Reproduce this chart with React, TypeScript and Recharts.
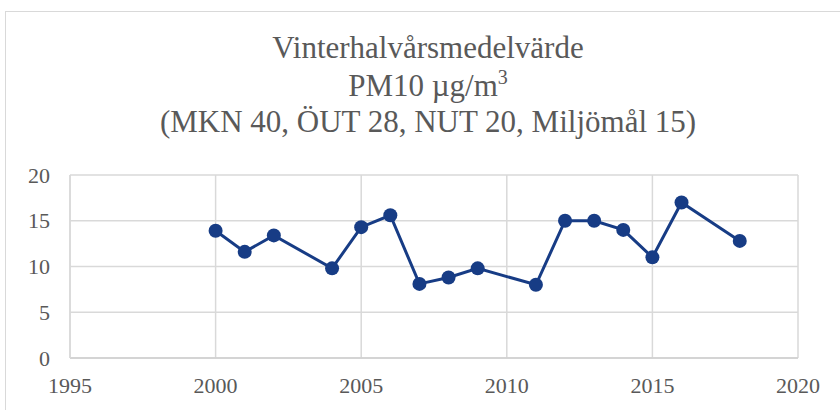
import React from "react";
import { LineChart, Line, XAxis, YAxis, CartesianGrid } from "recharts";

const years = [2000, 2001, 2002, 2004, 2005, 2006, 2007, 2008, 2009, 2011, 2012, 2013, 2014, 2015, 2016, 2018];
const pm10 = [13.9, 11.6, 13.4, 9.8, 14.3, 15.6, 8.1, 8.8, 9.8, 8.0, 15.0, 15.0, 14.0, 11.0, 17.0, 12.8];
const xTicks = [1995, 2000, 2005, 2010, 2015, 2020];
const yTicks = [0, 5, 10, 15, 20];
const titleLines = ["Vinterhalvårsmedelvärde", "PM10 µg/m", "(MKN 40, ÖUT 28, NUT 20, Miljömål 15)"];
const superscript = "3";

const data = years.map((y, i) => ({ year: y, value: pm10[i] }));

const FONT = '"Liberation Serif", "Times New Roman", serif';
const TEXT = "#595959";
const GRID = "#d9d9d9";
const LINE = "#173c85";

const XTick = (props: any) => {
  const { x, y, payload } = props;
  return (
    <text x={x} y={y + 35} textAnchor="middle" fontFamily={FONT} fontSize={22} fill={TEXT}>
      {payload.value}
    </text>
  );
};

const YTick = (props: any) => {
  const { x, y, payload } = props;
  return (
    <text x={x - 20} y={y + 7.5} textAnchor="end" fontFamily={FONT} fontSize={22} fill={TEXT}>
      {payload.value}
    </text>
  );
};

export default function App() {
  return (
    <div style={{ position: "absolute", left: 0, top: 0, width: 840, height: 410, overflow: "hidden", background: "#fff" }}>
      <div
        style={{
          position: "absolute",
          left: 5,
          top: 11,
          width: 860,
          height: 420,
          border: "1px solid #d9d9d9",
          boxSizing: "border-box",
        }}
      />
      <svg width={840} height={160} style={{ position: "absolute", left: 0, top: 0 }}>
        <text x={428} y={58} textAnchor="middle" fontFamily={FONT} fontSize={31} fill={TEXT}>
          {titleLines[0]}
        </text>
        <text x={428} y={96} textAnchor="middle" fontFamily={FONT} fontSize={31} fill={TEXT}>
          {titleLines[1]}
          <tspan fontSize={20} dy={-12}>{superscript}</tspan>
        </text>
        <text x={428} y={132} textAnchor="middle" fontFamily={FONT} fontSize={31} fill={TEXT}>
          {titleLines[2]}
        </text>
      </svg>
      <div style={{ position: "absolute", left: 0, top: 0 }}>
        <LineChart width={840} height={410} data={data} margin={{ top: 175, right: 42, bottom: 0, left: 0 }}>
          <CartesianGrid stroke={GRID} strokeWidth={1.5} />
          <XAxis
            dataKey="year"
            type="number"
            domain={[1995, 2020]}
            ticks={xTicks}
            interval={0}
            tickLine={false}
            tickSize={0}
            tickMargin={0}
            height={52}
            axisLine={{ stroke: "#cfcfcf", strokeWidth: 1.5 }}
            tick={<XTick />}
          />
          <YAxis
            type="number"
            domain={[0, 20]}
            ticks={yTicks}
            interval={0}
            tickLine={false}
            tickSize={0}
            tickMargin={0}
            width={70}
            axisLine={{ stroke: GRID, strokeWidth: 1.5 }}
            tick={<YTick />}
          />
          <Line
            type="linear"
            dataKey="value"
            stroke={LINE}
            strokeWidth={3}
            dot={{ r: 7, fill: LINE, stroke: LINE, strokeWidth: 0 }}
            isAnimationActive={false}
          />
        </LineChart>
      </div>
    </div>
  );
}
